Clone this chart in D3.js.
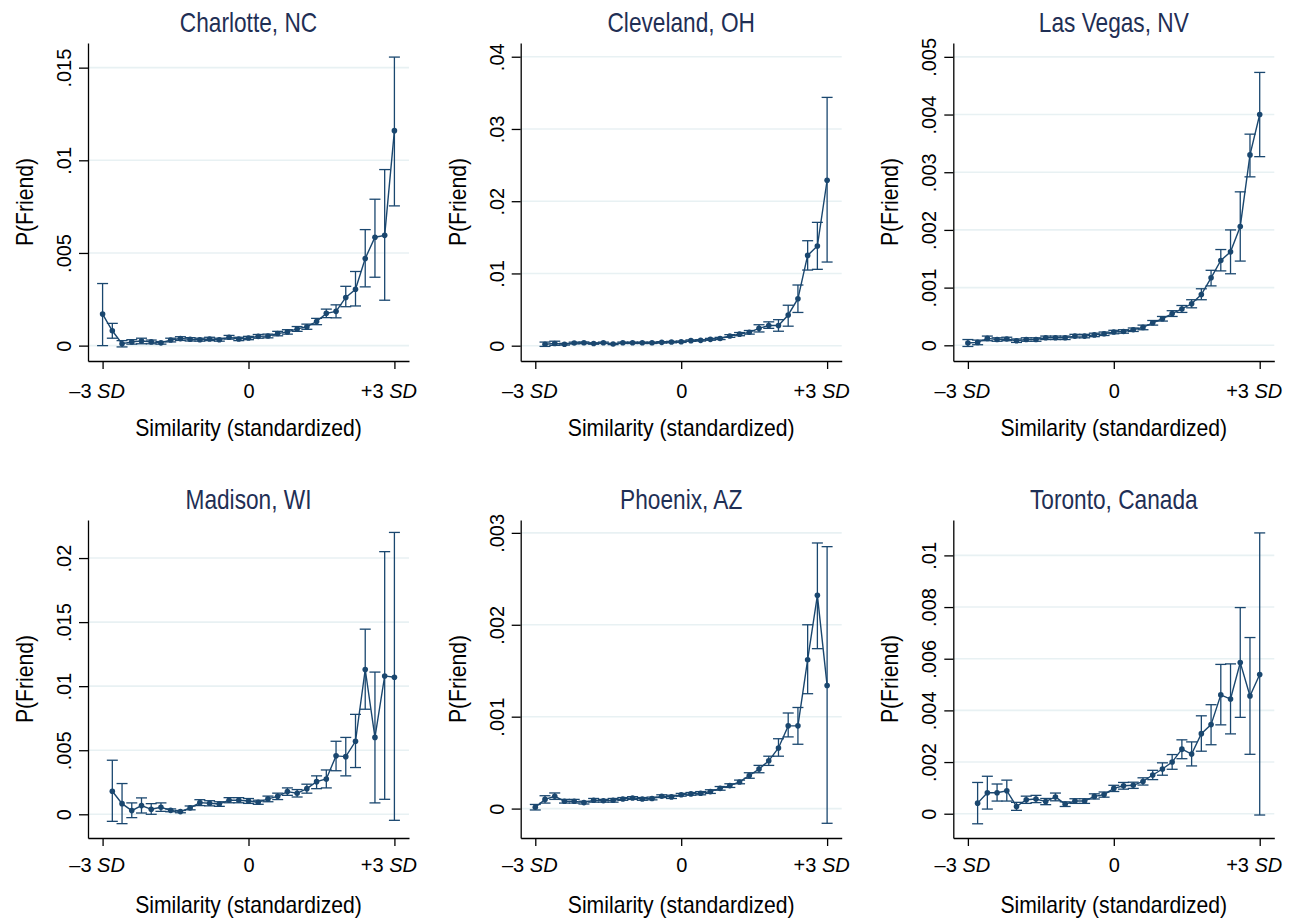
<!DOCTYPE html>
<html>
<head>
<meta charset="utf-8">
<script src="https://cdn.jsdelivr.net/npm/d3@7"></script>
<style>
  body { margin: 0; background: #fff; }
  svg { display: block; font-family: "Liberation Sans", Arial, sans-serif; }
</style>
</head>
<body>
<svg width="1301" height="920"></svg>
<script>
// similarity bins, in SD units
var bins = [-3, -2.8, -2.6, -2.4, -2.2, -2, -1.8, -1.6, -1.4, -1.2, -1, -0.8, -0.6, -0.4, -0.2,
            0, 0.2, 0.4, 0.6, 0.8, 1, 1.2, 1.4, 1.6, 1.8, 2, 2.2, 2.4, 2.6, 2.8, 3];

var cities = ["Charlotte, NC", "Cleveland, OH", "Las Vegas, NV", "Madison, WI", "Phoenix, AZ", "Toronto, Canada"];
var firstBin = [-3, -2.8, -3, -2.8, -3, -2.8];

var xTickValues = [-3, 0, 3];
var xTickLabels = ["\u20133 SD", "0", "+3 SD"];

// y axis ranges and ticks
var yDomains = [[-0.00083, 0.01633], [-0.00212, 0.0419], [-0.000272, 0.00524],
                [-0.00185, 0.02297], [-0.00032, 0.00314], [-0.00094, 0.01137]];
var yTicks = [[0, 0.005, 0.01, 0.015],
              [0, 0.01, 0.02, 0.03, 0.04],
              [0, 0.001, 0.002, 0.003, 0.004, 0.005],
              [0, 0.005, 0.01, 0.015, 0.02],
              [0, 0.001, 0.002, 0.003],
              [0, 0.002, 0.004, 0.006, 0.008, 0.01]];

var charlotteMean = [.0017, .0008, .0001, .0002, .00025, .0002, .00015, .0003, .00038, .00034, .00032, .00036, .00032, .00045, .00036, .00041, .0005, .00052, .00065, .00074, .0009, .00102, .0013, .00174, .00185, .0026, .00304, .0047, .00585, .00595, .0116];
var charlotteLo = [0, .0004, -.00007, .00008, .0001, .0001, .00008, .0002, .00028, .00025, .00024, .00027, .00024, .00035, .00027, .00032, .0004, .00042, .00053, .00062, .00077, .00088, .00113, .00151, .0015, .0021, .00214, .00317, .00369, .00245, .00754];
var charlotteHi = [.00335, .0012, .00027, .00032, .0004, .0003, .00022, .0004, .00048, .00043, .0004, .00045, .0004, .00055, .00045, .0005, .0006, .00062, .00077, .00086, .00103, .00116, .00147, .00197, .0022, .0032, .004, .00626, .0079, .0095, .01557];

var clevelandMean = [.0002, .0003, .0002, .00037, .0004, .0003, .0004, .00023, .0004, .0004, .0004, .0004, .00046, .0005, .00055, .0007, .00074, .00088, .001, .00134, .0016, .00185, .0024, .0028, .0028, .00425, .0065, .0125, .0138, .0229];
var clevelandLo = [-.0001, .00005, .00008, .00025, .00028, .0002, .0003, .00015, .0003, .0003, .0003, .0003, .00036, .0004, .00045, .0006, .00064, .00075, .00085, .00115, .00138, .0016, .0019, .0024, .002, .0027, .0046, .01047, .01057, .01158];
var clevelandHi = [.0005, .00062, .00032, .00049, .00052, .0004, .0005, .00031, .0005, .0005, .0005, .0005, .00056, .0006, .00065, .0008, .00084, .00101, .00115, .00153, .00182, .0021, .0029, .0033, .0036, .0056, .0084, .01453, .01707, .03437];

var lasVegasMean = [.00004, .00005, .00012, .0001, .00011, .00008, .0001, .0001, .00013, .00013, .00013, .00016, .00016, .00018, .0002, .00023, .00024, .00027, .00031, .00039, .00046, .00055, .00063, .00072, .00088, .00117, .00147, .00162, .00206, .0033, .004];
var lasVegasLo = [-.00002, .00001, .00008, .00007, .00008, .00005, .00007, .00007, .0001, .0001, .0001, .00013, .00013, .00015, .00017, .0002, .00021, .00024, .00027, .00035, .00042, .0005, .00057, .00065, .00079, .00103, .00129, .00124, .00146, .00292, .00327];
var lasVegasHi = [.0001, .00009, .00016, .00013, .00014, .00011, .00013, .00013, .00016, .00016, .00016, .00019, .00019, .00021, .00023, .00026, .00027, .0003, .00035, .00043, .0005, .0006, .00069, .00079, .00098, .0013, .00166, .002, .00266, .00366, .00473];

var madisonMean = [.0018, .00083, .00029, .00068, .00039, .00055, .00031, .00021, .0005, .00091, .00086, .0008, .0011, .0011, .00104, .00094, .0012, .0014, .00177, .00164, .002, .00255, .00276, .00456, .0045, .0057, .0113, .006, .0108, .0107];
var madisonLo = [-.00055, -.00073, -.00026, .0001, 0, .00023, .0002, .00012, .00035, .00068, .00066, .00062, .0009, .0009, .00085, .00078, .00098, .00115, .00148, .00135, .00165, .002, .00206, .0034, .003, .00365, .0082, .00089, .00117, -.00047];
var madisonHi = [.00422, .0024, .00089, .00128, .00083, .00089, .00042, .0003, .00065, .00114, .00106, .00098, .0013, .0013, .00123, .0011, .00142, .00165, .00206, .00193, .00235, .003, .00346, .0057, .006, .0078, .01445, .0111, .0205, .022];

var phoenixMean = [.000015, .0001, .000134, .00008, .00008, .000065, .00009, .000085, .00009, .000105, .000116, .000105, .00011, .000134, .000127, .00015, .00016, .000167, .000185, .00022, .00025, .00029, .00036, .00043, .00052, .00066, .0009, .0009, .00162, .00232, .00134];
var phoenixLo = [-.000015, .00006, .0001, .00006, .00006, .00005, .00007, .00007, .00007, .00009, .0001, .00009, .000095, .00012, .00011, .000135, .000145, .00015, .000165, .0002, .00023, .00027, .00033, .00039, .00047, .00057, .00078, .0007, .00125, .00174, -.00016];
var phoenixHi = [.000045, .00014, .00017, .0001, .0001, .00008, .00011, .0001, .00011, .00012, .00013, .00012, .000125, .00015, .000145, .000165, .000175, .000185, .000205, .00024, .00027, .00031, .00039, .00047, .00057, .00076, .00104, .0011, .002, .00289, .00285];

var torontoMean = [.00041, .00081, .00081, .00089, .00028, .00054, .00057, .00047, .00065, .00037, .00049, .00049, .00067, .00074, .00098, .00108, .0011, .00125, .0015, .00173, .002, .0025, .00231, .0031, .00345, .0046, .00444, .00585, .00456, .00539];
var torontoLo = [-.00039, .00018, .00049, .00049, .00013, .0004, .00043, .00035, .0005, .00028, .0004, .0004, .00057, .00064, .00086, .00095, .00098, .00111, .00132, .00149, .00172, .00213, .00185, .00242, .00267, .00344, .00309, .00373, .0023, -.00005];
var torontoHi = [.00121, .00145, .00115, .0013, .00044, .00068, .00071, .00059, .0008, .00046, .00058, .00058, .00077, .00084, .0011, .00121, .00122, .00139, .00168, .00197, .00229, .00286, .00278, .00379, .00422, .00578, .0058, .00798, .00682, .01087];

var means = [charlotteMean, clevelandMean, lasVegasMean, madisonMean, phoenixMean, torontoMean];
var los = [charlotteLo, clevelandLo, lasVegasLo, madisonLo, phoenixLo, torontoLo];
var his = [charlotteHi, clevelandHi, lasVegasHi, madisonHi, phoenixHi, torontoHi];

var svg = d3.select("svg");
var colLeft = [88, 520.7, 953.3];
var rowTop = [43, 520];
var plotW = 321, plotH = 318;
var navy = "#1a476f";

// ".005" style labels, like Stata
var yFmt = function(d) {
  return d === 0 ? "0" : String(+d.toPrecision(6)).replace(/^0\./, ".");
};

cities.forEach(function(city, k) {
  var col = k % 3, row = Math.floor(k / 3);
  var g = svg.append("g")
    .attr("transform", "translate(" + colLeft[col] + "," + rowTop[row] + ")");

  var x = d3.scaleLinear().domain([-3.3, 3.3]).range([0, plotW]);
  var y = d3.scaleLinear().domain(yDomains[k]).range([plotH, 0]);

  var start = bins.indexOf(firstBin[k]);
  var data = means[k].map(function(m, i) {
    return { x: bins[start + i], m: m, lo: los[k][i], hi: his[k][i] };
  });

  // gridlines
  g.selectAll(".grid").data(yTicks[k]).enter().append("line")
    .attr("class", "grid")
    .attr("x1", 0).attr("x2", plotW)
    .attr("y1", function(d) { return y(d); })
    .attr("y2", function(d) { return y(d); })
    .attr("stroke", "#e8f1f3")
    .attr("stroke-width", 1.6);

  // y axis
  var yaxis = g.append("g")
    .call(d3.axisLeft(y).tickValues(yTicks[k]).tickSize(9).tickSizeOuter(0).tickFormat(yFmt));
  yaxis.selectAll("text")
    .attr("transform", "rotate(-90)")
    .attr("x", 0).attr("y", -17).attr("dy", 0)
    .attr("text-anchor", "middle")
    .attr("font-size", "20px")
    .attr("font-family", null)
    .attr("fill", "#000");

  // x axis
  var xaxis = g.append("g")
    .attr("transform", "translate(0," + plotH + ")")
    .call(d3.axisBottom(x).tickValues(xTickValues).tickSize(8).tickSizeOuter(0));
  xaxis.selectAll("text")
    .attr("y", row === 0 ? 36.5 : 33.5).attr("dy", 0)
    .attr("font-size", "20px")
    .attr("font-family", null)
    .attr("fill", "#000")
    .each(function(d, i) {
      var t = d3.select(this).text(null);
      var lab = xTickLabels[xTickValues.indexOf(d)];
      if (lab.indexOf(" SD") < 0) { t.text(lab); return; }
      t.attr("dx", -6);
      t.append("tspan").text(lab.replace(" SD", " "));
      t.append("tspan").attr("font-style", "italic").text("SD");
    });

  g.selectAll(".domain, .tick line").attr("stroke", "#000").attr("stroke-width", 1.3);

  // error bars
  var bars = g.selectAll(".ci").data(data).enter().append("g").attr("class", "ci")
    .attr("stroke", navy).attr("stroke-width", 1.3);
  bars.append("line")
    .attr("x1", function(d) { return x(d.x); }).attr("x2", function(d) { return x(d.x); })
    .attr("y1", function(d) { return y(d.lo); }).attr("y2", function(d) { return y(d.hi); });
  bars.append("line")
    .attr("x1", function(d) { return x(d.x) - 5.5; }).attr("x2", function(d) { return x(d.x) + 5.5; })
    .attr("y1", function(d) { return y(d.lo); }).attr("y2", function(d) { return y(d.lo); });
  bars.append("line")
    .attr("x1", function(d) { return x(d.x) - 5.5; }).attr("x2", function(d) { return x(d.x) + 5.5; })
    .attr("y1", function(d) { return y(d.hi); }).attr("y2", function(d) { return y(d.hi); });

  // connected line + markers
  var line = d3.line()
    .x(function(d) { return x(d.x); })
    .y(function(d) { return y(d.m); });
  g.append("path").datum(data)
    .attr("d", line)
    .attr("fill", "none")
    .attr("stroke", navy)
    .attr("stroke-width", 1.4);

  g.selectAll(".dot").data(data).enter().append("circle")
    .attr("class", "dot")
    .attr("cx", function(d) { return x(d.x); })
    .attr("cy", function(d) { return y(d.m); })
    .attr("r", 2.8)
    .attr("fill", navy);

  // titles
  g.append("text")
    .attr("transform", "translate(" + (plotW / 2) + ",-11.5) scale(0.81,1)")
    .attr("text-anchor", "middle")
    .attr("font-size", "28px")
    .attr("fill", "#1f2f55")
    .text(city);

  g.append("text")
    .attr("transform", "translate(" + (plotW / 2) + "," + (plotH + 75) + ") scale(0.92,1)")
    .attr("text-anchor", "middle")
    .attr("font-size", "23px")
    .attr("fill", "#000")
    .text("Similarity (standardized)");

  g.append("text")
    .attr("transform", "translate(-55," + (plotH / 2) + ") rotate(-90) scale(0.92,1)")
    .attr("text-anchor", "middle")
    .attr("font-size", "23px")
    .attr("fill", "#000")
    .text("P(Friend)");
});
</script>
</body>
</html>
